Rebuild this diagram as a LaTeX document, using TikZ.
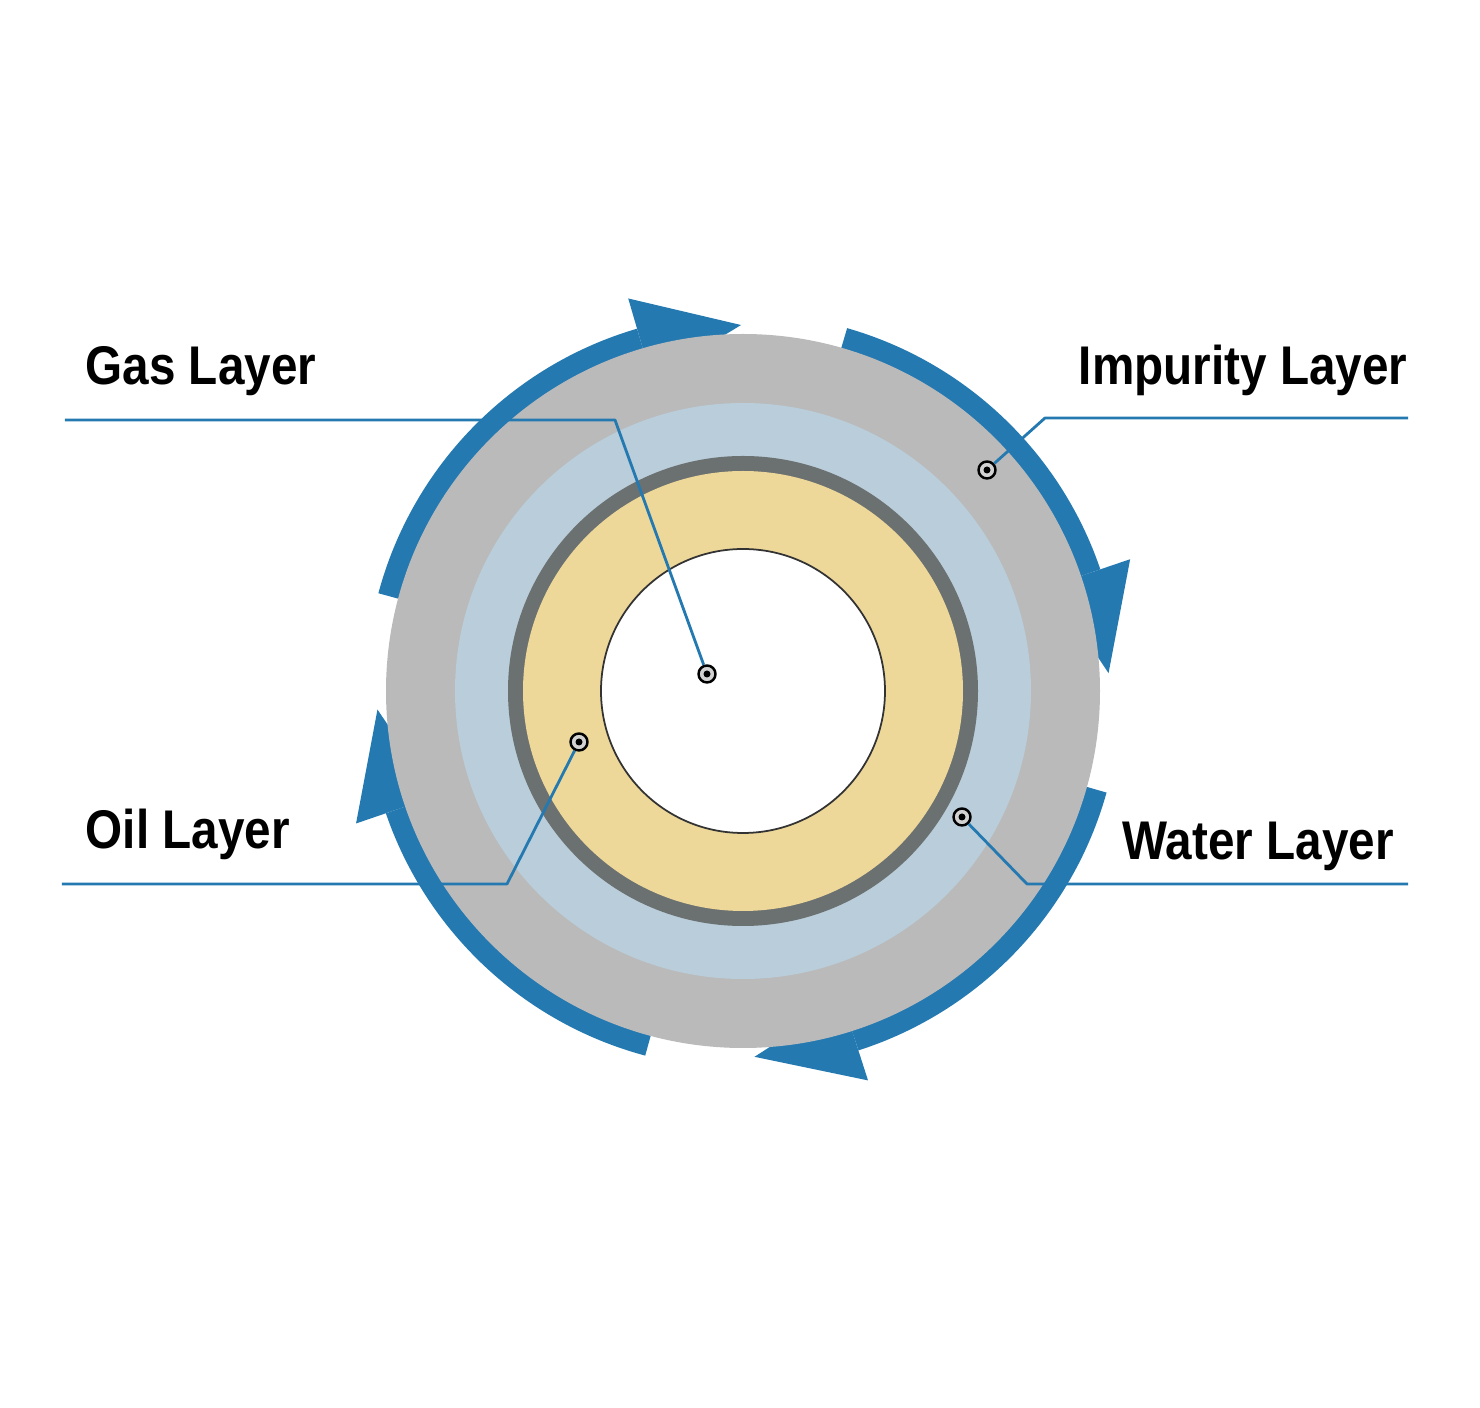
\documentclass[tikz,border=0pt]{standalone}
\usepackage{fontspec}
\newfontfamily\labelfont{Liberation Sans Bold}[FakeStretch=0.875]
\usetikzlibrary{calc}
\definecolor{flowblue}{HTML}{2479B1}
\definecolor{impgray}{HTML}{BABABA}
\definecolor{waterblue}{HTML}{B9CDDA}
\definecolor{ringgray}{HTML}{6B7070}
\definecolor{oilyellow}{HTML}{EDD89A}
\tikzset{
	layerlabel/.style={font=\labelfont\fontsize{15.5}{18}\selectfont, inner sep=0pt},
	leader/.style={draw=flowblue, line width=0.8pt},
	dotmark/.style={circle, draw=black, line width=0.7pt, fill=gray!35, minimum size=0.17cm, inner sep=0pt,
		path picture={\fill[black] (path picture bounding box.center) circle (0.035);}}
}
\begin{document}
\begin{tikzpicture}[line join=round]
		\useasboundingbox (0,0) rectangle (14.8,14.08);
		\coordinate (c) at (7.43,7.17);
		% circulation arrows (behind the layers)
		\begin{scope}[shift={(c)}]
			\foreach \s/\b in {165/106.3, 74/18.8, -15.6/-72.2, 255/198.9}{
				\draw[flowblue, line width=0.21cm] (\s:3.67) arc[start angle=\s, end angle=\b, radius=3.67];
				\fill[flowblue] (\b:4.09) -- (\b:3.25) -- (\b-16:3.66) -- cycle;
			}
		\end{scope}
		% layers
		\fill[impgray] (c) circle (3.57);
		\fill[waterblue] (c) circle (2.88);
		\fill[ringgray] (c) circle (2.35);
		\fill[oilyellow] (c) circle (2.20);
		\filldraw[fill=white, draw=black!80, line width=0.5pt] (c) circle (1.42);
		% labels
		\node[layerlabel, anchor=base west] (gas) at (0.85,10.23) {Gas Layer};
		\node[layerlabel, anchor=base east] (imp) at (14.08,10.23) {Impurity Layer};
		\node[layerlabel, anchor=base west] (oil) at (0.85,5.59) {Oil Layer};
		\node[layerlabel, anchor=base west] (water) at (11.22,5.48) {Water Layer};
		% markers
		\node[dotmark] (gasdot) at (7.07,7.34) {};
		\node[dotmark] (impdot) at (9.87,9.38) {};
		\node[dotmark] (oildot) at (5.79,6.66) {};
		\node[dotmark] (waterdot) at (9.62,5.91) {};
		% leaders
		\coordinate (gasend) at (0.65,9.88);
		\coordinate (gasbend) at (6.15,9.88);
		\coordinate (impend) at (14.08,9.90);
		\coordinate (impbend) at (10.45,9.90);
		\coordinate (oilend) at (0.62,5.24);
		\coordinate (oilbend) at (5.07,5.24);
		\coordinate (waterend) at (14.08,5.24);
		\coordinate (waterbend) at (10.27,5.24);
		\draw[leader] (gasend) -- (gasbend) -- (gasdot);
		\draw[leader] (impend) -- (impbend) -- (impdot);
		\draw[leader] (oilend) -- (oilbend) -- (oildot);
		\draw[leader] (waterend) -- (waterbend) -- (waterdot);
\end{tikzpicture}
\end{document}
